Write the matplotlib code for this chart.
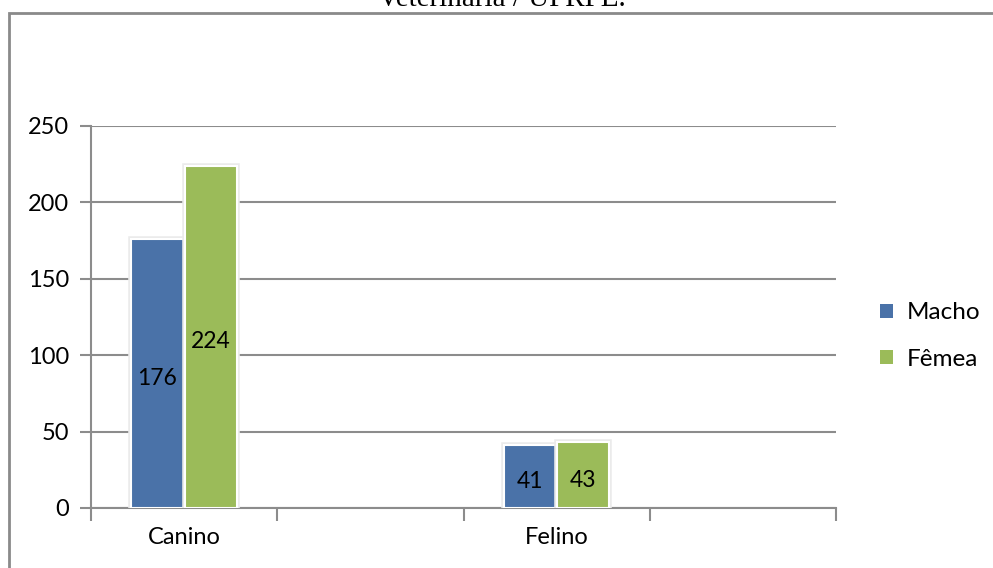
import numpy as np
import matplotlib
matplotlib.use("Agg")
import matplotlib.pyplot as plt
from matplotlib import patheffects as pe
from matplotlib.patches import Rectangle

# Category slots along the x axis (two of them are left empty)
categories = ["Canino", "", "Felino", ""]
macho = [176, np.nan, 41, np.nan]
femea = [224, np.nan, 43, np.nan]
series_names = ["Macho", "Fêmea"]
yticks = [0, 50, 100, 150, 200, 250]
caption = "Veterinária / UFRPE."

blue = "#4A72A8"
green = "#9BBB59"
grid_gray = "#8C8C8C"
font = "Lato"

fig = plt.figure(figsize=(9.93, 5.68), dpi=100)
fig.patch.set_facecolor("white")

# Caption line above the chart frame
fig.text(0.505, 1 - 6 / 568, caption, ha="center", va="baseline",
         family="Liberation Serif", fontsize=21, color="black")

# Chart frame
fig.patches.append(Rectangle((9 / 993, -0.1), 1.2, 1 - 13 / 568 + 0.1,
                             transform=fig.transFigure, fill=False,
                             edgecolor="#8A8A8A", linewidth=2, zorder=0))

ax = fig.add_axes([91 / 993, 60 / 568, 745 / 993, 382 / 568])
ax.set_facecolor("none")

x = np.arange(len(categories)) + 0.5
w = 0.28
off = 0.143
shadow = [pe.Stroke(linewidth=4, foreground="#EBEBEB"), pe.Normal()]
b1 = ax.bar(x - off, macho, width=w, color=blue, edgecolor="white",
            linewidth=1.5, zorder=3, label=series_names[0])
b2 = ax.bar(x + off, femea, width=w, color=green, edgecolor="white",
            linewidth=1.5, zorder=3, label=series_names[1])
for bars in (b1, b2):
    for p in bars:
        p.set_path_effects(shadow)

# Value labels centred in each bar, nudged a few pixels down
for bars, vals in ((b1, macho), (b2, femea)):
    for p, v in zip(bars, vals):
        if np.isnan(v):
            continue
        ax.annotate(f"{v:g}", (p.get_x() + p.get_width() / 2, v / 2),
                    xytext=(0, -3.5), textcoords="offset points",
                    ha="center", va="center", fontsize=16.5, family=font,
                    color="black", zorder=4)

ax.set_xlim(0, len(categories))
ax.set_ylim(0, 250)
ax.set_yticks(yticks)
ax.set_yticklabels([str(t) for t in yticks], family=font, fontsize=17)
ax.yaxis.grid(True, color=grid_gray, linewidth=1.5, zorder=0)
ax.set_axisbelow(True)

ax.set_xticks(np.arange(len(categories) + 1))
ax.set_xticklabels([])
ax.set_xticks(x, minor=True)
ax.set_xticklabels(categories, minor=True, family=font, fontsize=17)
ax.tick_params(axis="x", which="major", length=9, width=1.5, color=grid_gray)
ax.tick_params(axis="x", which="minor", length=0, pad=14)
ax.tick_params(axis="y", length=8, width=1.5, color=grid_gray, pad=8)

for s in ("top", "right"):
    ax.spines[s].set_visible(False)
for s in ("left", "bottom"):
    ax.spines[s].set_color(grid_gray)
    ax.spines[s].set_linewidth(1.5)

leg = ax.legend(loc="center left", bbox_to_anchor=(1.059, 0.45), frameon=False,
                prop={"family": font, "size": 17.5}, handlelength=0.52,
                handleheight=0.52, handletextpad=0.6, labelspacing=1.05,
                borderaxespad=0, borderpad=0)
for h in leg.legend_handles:
    h.set_path_effects([])
    h.set_linewidth(0)

fig.savefig("out.png", dpi=100, facecolor="white")
